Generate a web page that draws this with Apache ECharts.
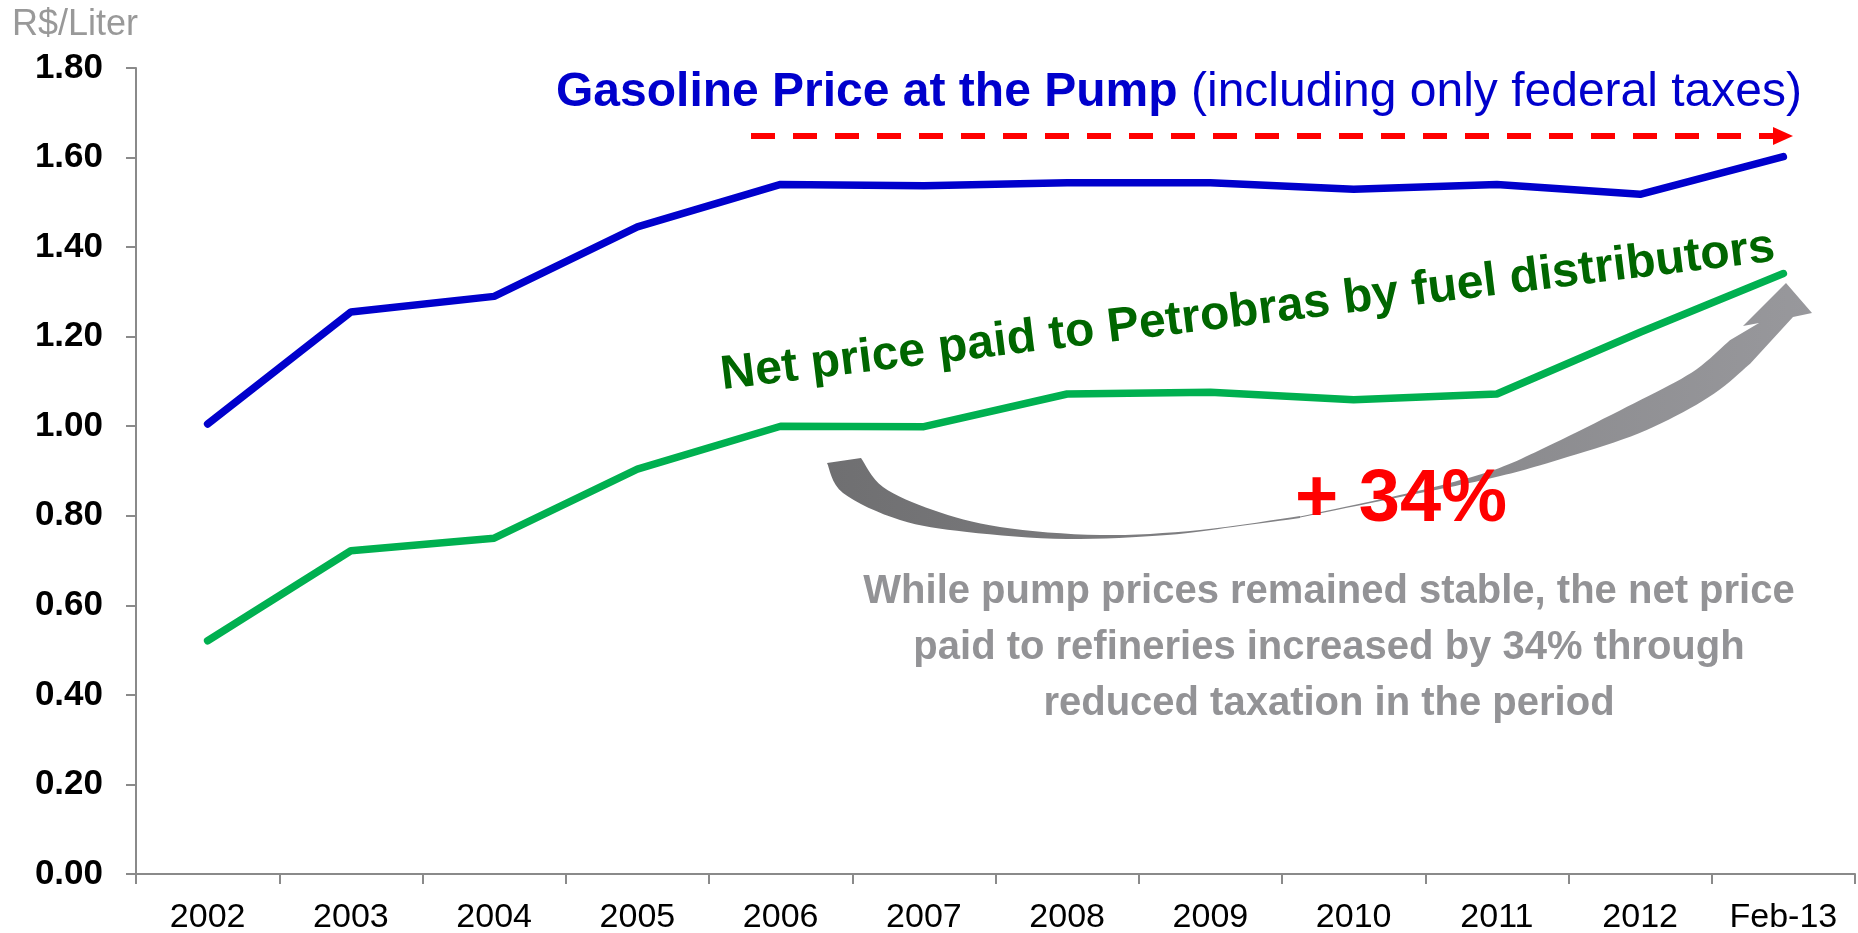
<!DOCTYPE html>
<html>
<head>
<meta charset="utf-8">
<script src="https://cdn.jsdelivr.net/npm/echarts@6/dist/echarts.min.js"></script>
<style>
  html, body { margin: 0; padding: 0; background: #fff; }
  #main { width: 1858px; height: 933px; }
</style>
</head>
<body>
<div id="main"></div>
<script>
// 数据 (R$/Liter)
var years = ['2002', '2003', '2004', '2005', '2006', '2007', '2008', '2009', '2010', '2011', '2012', 'Feb-13']
var pumpPrice = [1.005, 1.255, 1.29, 1.445, 1.54, 1.537, 1.544, 1.544, 1.529, 1.54, 1.518, 1.602]
var netPrice = [0.521, 0.722, 0.75, 0.904, 1.0, 0.999, 1.072, 1.076, 1.059, 1.072, 1.21, 1.341]
var yMin = 0
var yMax = 1.8
var yStep = 0.2

var font = "'Liberation Sans', Arial, sans-serif"

// Catmull-Rom 平滑 (第三个分量为宽度, 一起插值)
const smoothLine = (pts, n) => {
  let out = []
  let dim = pts[0].length
  for (let i = 0; i < pts.length - 1; i++) {
    let p0 = pts[Math.max(i - 1, 0)], p1 = pts[i], p2 = pts[i + 1], p3 = pts[Math.min(i + 2, pts.length - 1)]
    for (let j = 0; j < n; j++) {
      let t = j / n, t2 = t * t, t3 = t2 * t
      let p = []
      for (let k = 0; k < dim; k++) {
        p.push(0.5 * (2 * p1[k] + (-p0[k] + p2[k]) * t +
          (2 * p0[k] - 5 * p1[k] + 4 * p2[k] - p3[k]) * t2 +
          (-p0[k] + 3 * p1[k] - 3 * p2[k] + p3[k]) * t3))
      }
      out.push(p)
    }
  }
  out.push(pts[pts.length - 1])
  return out
}

// 灰色弯箭头: 下半段两条边 + 上升段中心线(带宽度)
let lowOuter = smoothLine([[827, 463], [843, 493], [900, 520], [967, 532], [1067, 539], [1167, 535], [1233, 527], [1300, 518]], 8)
let lowInner = smoothLine([[1300, 516], [1200, 530], [1100, 535], [1000, 527], [933, 510], [883, 487], [861, 458]], 8)
let rise = smoothLine([[1300, 517, 1], [1400, 496, 2], [1450, 485, 4], [1500, 472, 8], [1550, 454, 16],
  [1633, 420, 29], [1700, 385, 30], [1740, 352, 31]], 10)
let riseOuter = [], riseInner = []
for (let i = 0; i < rise.length; i++) {
  let a = rise[Math.max(i - 1, 0)], b = rise[Math.min(i + 1, rise.length - 1)]
  let dx = b[0] - a[0], dy = b[1] - a[1], len = Math.sqrt(dx * dx + dy * dy)
  let nx = -dy / len, ny = dx / len, h = rise[i][2] / 2
  riseOuter.push([rise[i][0] + nx * h, rise[i][1] + ny * h])
  riseInner.push([rise[i][0] - nx * h, rise[i][1] - ny * h])
}
let arrowPts = [].concat(lowOuter, riseOuter, [[1793, 317], [1812, 313], [1786, 283], [1743, 326], [1759, 323]],
  riseInner.reverse(), lowInner)

let chart = echarts.init(document.getElementById('main'))

let option = {
  backgroundColor: '#fff',
  animation: false,
  grid: {
    left: 136,
    right: 3,
    top: 68,
    bottom: 59,
    outerBoundsMode: 'none',
    containLabel: false
  },
  xAxis: {
    type: 'category',
    data: years,
    boundaryGap: true,
    axisLine: { lineStyle: { color: '#8a8a8a', width: 2 } },
    axisTick: { show: true, length: 10, lineStyle: { color: '#8a8a8a', width: 2 } },
    axisLabel: { color: '#000', fontSize: 34, fontFamily: font, margin: 27 }
  },
  yAxis: {
    type: 'value',
    min: yMin,
    max: yMax,
    interval: yStep,
    splitLine: { show: false },
    axisLine: { show: true, lineStyle: { color: '#8a8a8a', width: 2 } },
    axisTick: { show: true, length: 10, lineStyle: { color: '#8a8a8a', width: 2 } },
    axisLabel: {
      color: '#000',
      fontSize: 35,
      fontWeight: 'bold',
      fontFamily: font,
      margin: 33,
      formatter: function (v) { return v.toFixed(2) }
    }
  },
  series: [{
    name: 'Gasoline Price at the Pump',
    type: 'line',
    data: pumpPrice,
    showSymbol: false,
    symbol: 'none',
    lineStyle: { color: '#0000cc', width: 7.5, cap: 'round' }
  }, {
    name: 'Net price paid to Petrobras by fuel distributors',
    type: 'line',
    data: netPrice,
    showSymbol: false,
    symbol: 'none',
    lineStyle: { color: '#00b050', width: 7.5, cap: 'round' }
  }],
  graphic: [
    {
      type: 'text', x: 12, y: 25,
      style: { text: 'R$/Liter', fill: '#999999', font: '36px ' + font, verticalAlign: 'middle' }
    },
    {
      type: 'text', x: 556, y: 93,
      style: { text: 'Gasoline Price at the Pump', fill: '#0000cc', font: 'bold 48px ' + font, verticalAlign: 'middle' }
    },
    {
      type: 'text', x: 1191, y: 93,
      style: { text: '(including only federal taxes)', fill: '#0000cc', font: '48px ' + font, verticalAlign: 'middle' }
    },
    // 红色虚线箭头
    {
      type: 'line',
      shape: { x1: 751, y1: 136, x2: 1773, y2: 136 },
      style: { stroke: '#ff0000', lineWidth: 6, lineDash: [24, 18] }
    },
    {
      type: 'polygon',
      shape: { points: [[1773, 127], [1793, 136], [1773, 145]] },
      style: { fill: '#ff0000' }
    },
    // 灰色弯箭头
    {
      type: 'polygon',
      shape: { points: arrowPts },
      style: {
        fill: new echarts.graphic.LinearGradient(0, 0, 1, 0, [
          { offset: 0, color: '#6f6f71' },
          { offset: 1, color: '#98989c' }
        ])
      },
      z: 1
    },
    {
      type: 'text', x: 723, y: 393, rotation: 6.96 * Math.PI / 180,
      style: {
        x: 0, y: -17,
        text: 'Net price paid to Petrobras by fuel distributors',
        fill: '#006600', font: 'bold 48px ' + font, verticalAlign: 'middle'
      },
      z: 10
    },
    {
      type: 'text', x: 1401, y: 501,
      style: { text: '+ 34%', fill: '#ff0000', font: 'bold 74px ' + font, align: 'center', verticalAlign: 'middle' },
      z: 10
    },
    {
      type: 'text', x: 1329, y: 648,
      style: {
        text: 'While pump prices remained stable, the net price\npaid to refineries increased by 34% through\nreduced taxation in the period',
        fill: '#939396', font: 'bold 40px ' + font, lineHeight: 56, align: 'center', verticalAlign: 'middle'
      },
      z: 10
    }
  ]
}

chart.setOption(option)
</script>
</body>
</html>
